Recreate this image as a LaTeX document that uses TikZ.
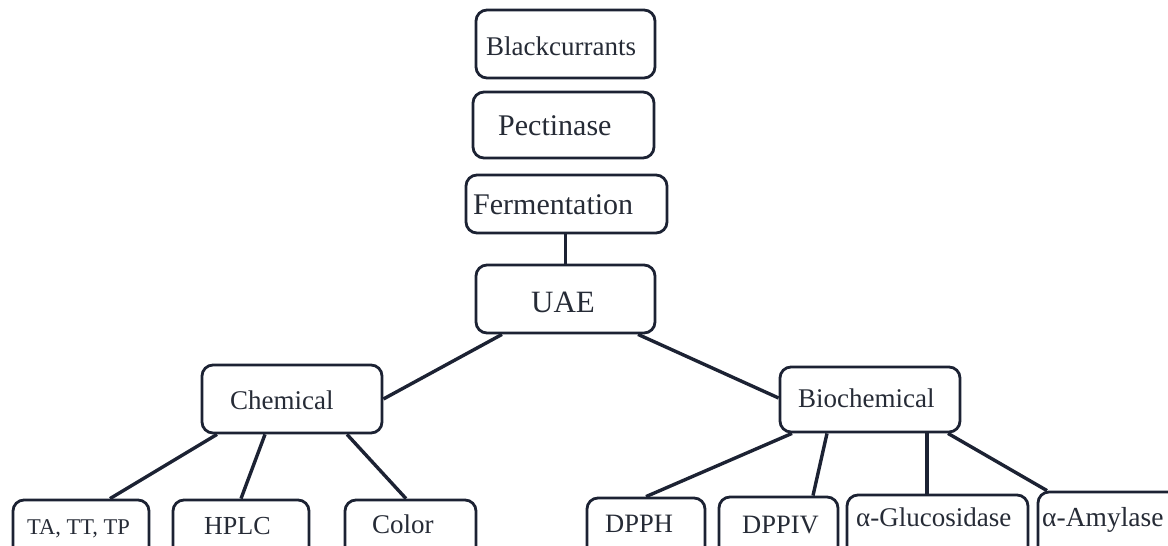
\documentclass[tikz,border=0pt]{standalone}
\usepackage{fontspec}
\setmainfont{Liberation Serif}
\definecolor{edge}{HTML}{1C2233}
\definecolor{ink}{HTML}{262B36}
\tikzset{
  x=1pt, y=-1pt,
  box/.style={draw=edge, line width=2.8pt, rounded corners=11pt, fill=white, inner sep=0pt},
  txt/.style={text=ink, inner sep=0pt, anchor=base west},
  link/.style={draw=edge, line width=3.4pt},
}
\newcommand{\fs}[1]{\fontsize{#1}{#1}\selectfont}
\begin{document}
\begin{tikzpicture}
\useasboundingbox (0,0) rectangle (1168,546);
\clip (0,0) rectangle (1168,546);
\fill[white] (0,0) rectangle (1168,546);
% boxes (center, width, height)
\node[box, minimum width=179pt, minimum height=68pt] (black) at (565.5,44) {};
\node[box, minimum width=181pt, minimum height=66pt] (pect) at (563.5,125) {};
\node[box, minimum width=201pt, minimum height=58pt] (ferm) at (566.5,204) {};
\node[box, minimum width=179pt, minimum height=68pt] (uae) at (565.5,299) {};
\node[box, minimum width=180pt, minimum height=68pt] (chem) at (292,399) {};
\node[box, minimum width=180pt, minimum height=65pt] (bio) at (870,399.5) {};
\node[box, minimum width=136pt, minimum height=60pt] (ta) at (81,530) {};
\node[box, minimum width=136pt, minimum height=60pt] (hplc) at (241,530) {};
\node[box, minimum width=131pt, minimum height=60pt] (color) at (410.5,530) {};
\node[box, minimum width=118pt, minimum height=62pt] (dpph) at (646,529) {};
\node[box, minimum width=119pt, minimum height=64pt] (dppiv) at (778.5,529) {};
\node[box, minimum width=181pt, minimum height=68pt] (gluc) at (937.5,529) {};
\node[box, minimum width=152pt, minimum height=74pt] (amyl) at (1114,529) {};
% texts
\node[txt] (blackT) at (486,55) {\fs{27}Blackcurrants};
\node[txt] (pectT) at (498,135) {\fs{30}Pectinase};
\node[txt] (fermT) at (473,214) {\fs{30}Fermentation};
\node[txt] (uaeT) at (531,312) {\fs{31}UAE};
\node[txt] (chemT) at (230,409) {\fs{27}Chemical};
\node[txt] (bioT) at (798,407) {\fs{27}Biochemical};
\node[txt] (taT) at (27,534) {\fs{22.5}TA, TT, TP};
\node[txt] (hplcT) at (204,534) {\fs{26}HPLC};
\node[txt] (colorT) at (372,533) {\fs{27}Color};
\node[txt] (dpphT) at (605,532) {\fs{26.5}DPPH};
\node[txt] (dppivT) at (742,533) {\fs{26.5}DPPIV};
\node[txt] (glucT) at (856,526) {\fs{27}α-Glucosidase};
\node[txt] (amylT) at (1042,526) {\fs{27.5}α-Amylase};
% connectors
\draw[link] (uae.north |- ferm.south) -- (uae.north);
\draw[link] ([xshift=-63.5pt]uae.south) -- (chem.east);
\draw[link] ([xshift=72.5pt]uae.south) -- ([yshift=1.5pt]bio.west);
\draw[link] ([xshift=-75pt]chem.south) -- ([xshift=29pt]ta.north);
\draw[link] ([xshift=-27pt]chem.south) -- (hplc.north);
\draw[link] ([xshift=55pt]chem.south) -- ([xshift=-4.5pt]color.north);
\draw[link] ([xshift=-78pt]bio.south) -- (dpph.north);
\draw[link] ([xshift=-43pt]bio.south) -- ([xshift=34.5pt]dppiv.north);
\draw[link] ([xshift=57pt]bio.south) -- ([xshift=-10.5pt]gluc.north);
\draw[link] ([xshift=78pt]bio.south) -- ([xshift=-67pt]amyl.north);
\end{tikzpicture}
\end{document}
